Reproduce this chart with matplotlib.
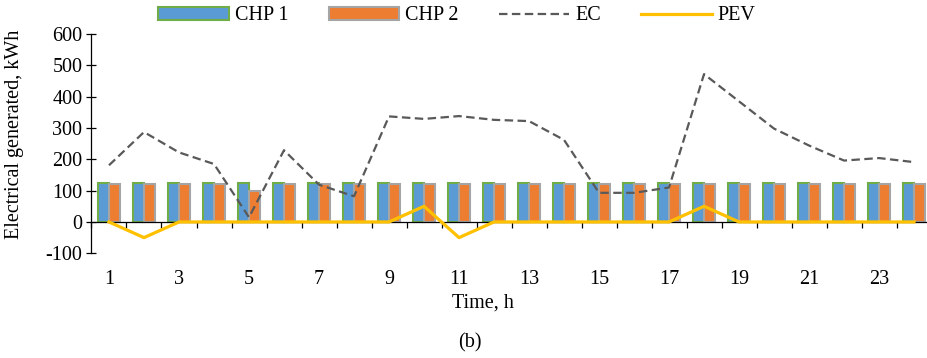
import matplotlib
matplotlib.use('Agg')
import matplotlib.pyplot as plt
import numpy as np

plt.rcParams['font.family'] = ['Liberation Serif', 'DejaVu Serif']
plt.rcParams['axes.unicode_minus'] = False

# hourly data
hours = list(range(1, 25))
chp1 = [125, 125, 125, 125, 125, 125, 125, 125, 125, 125, 125, 125,
        125, 125, 125, 125, 125, 125, 125, 125, 125, 125, 125, 125]
chp2 = [120, 120, 120, 120, 100, 120, 120, 120, 120, 120, 120, 120,
        120, 120, 120, 120, 120, 120, 120, 120, 120, 120, 120, 120]
ec = [181, 287, 222, 185, 15, 229, 119, 82, 337, 329, 338, 326,
      322, 262, 93, 93, 110, 472, 385, 298, 244, 196, 204, 191]
pev = [0, -50, 0, 0, 0, 0, 0, 0, 0, 50, -50, 0,
       0, 0, 0, 0, 0, 50, 0, 0, 0, 0, 0, 0]
yticks = [-100, 0, 100, 200, 300, 400, 500, 600]
xlabels = [1, 3, 5, 7, 9, 11, 13, 15, 17, 19, 21, 23]

FS = 14.5
fig = plt.figure(figsize=(9.27, 3.58), dpi=100)
ax = fig.add_axes([0.0987, 0.2925, 0.9062, 0.6125])

x = np.array(hours)
w = 0.31
b1 = ax.bar(x - w / 2, chp1, width=w, color='#5B9BD5', edgecolor='#70AD47',
            linewidth=1.5, label='CHP 1', zorder=2)
b2 = ax.bar(x + w / 2, chp2, width=w, color='#ED7D31', edgecolor='#A5A5A5',
            linewidth=1.5, label='CHP 2', zorder=2)
l1, = ax.plot(x, ec, color='#595959', linewidth=1.6, dashes=(3.8, 2),
              label='EC', zorder=3)
l2, = ax.plot(x, pev, color='#FFC000', linewidth=2.3, label='PEV', zorder=4)

ax.set_xlim(0.5, 24.5)
ax.set_ylim(-100, 600)

# axes styling
ax.spines['top'].set_visible(False)
ax.spines['right'].set_visible(False)
ax.spines['bottom'].set_position(('data', 0))
ax.spines['bottom'].set_zorder(3)
for s in ('left', 'bottom'):
    ax.spines[s].set_color('black')
    ax.spines[s].set_linewidth(0.9)

ax.set_yticks(yticks)
ax.tick_params(axis='y', direction='inout', length=7, width=0.9,
               labelsize=FS, pad=3)

ax.set_xticks(np.arange(0.5, 25, 1))
ax.set_xticklabels([])
ax.set_xticks(xlabels, minor=True)
ax.set_xticklabels([str(v) for v in xlabels], minor=True)
ax.tick_params(axis='x', which='major', direction='out', length=4.5, width=0.9)
ax.tick_params(axis='x', which='minor', length=0, labelsize=FS, pad=34.5)

fig.text(15 / 927, 1 - 134 / 358, 'Electrical generated, kWh', rotation=90,
         ha='center', va='center', fontsize=FS)
fig.text(483 / 927, 1 - 303 / 358, 'Time, h', ha='center', va='center',
         fontsize=FS)
fig.text(470 / 927, 1 - 343 / 358, '(b)', ha='center', va='center',
         fontsize=FS)

fig.legend(handles=[b1, b2, l1, l2], loc='center',
           bbox_to_anchor=(457 / 927, 1 - 16 / 358), ncol=4,
           frameon=False, fontsize=FS, handlelength=3.5, handleheight=0.65,
           handletextpad=0.3, columnspacing=2.0, borderaxespad=0)

fig.savefig('out.png', dpi=100)
